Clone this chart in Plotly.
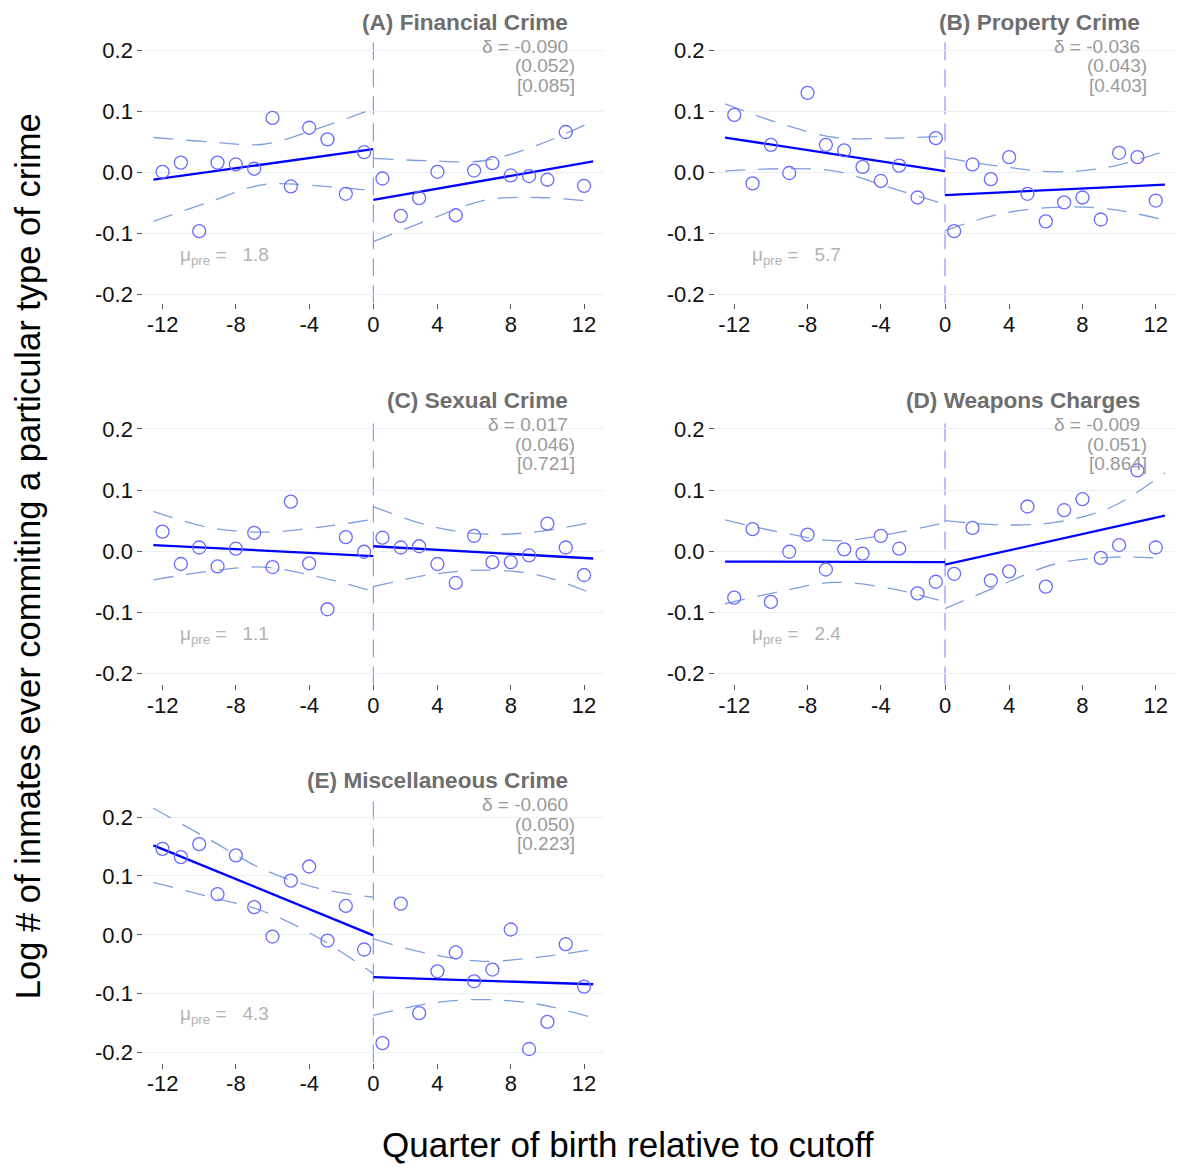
import plotly.graph_objects as go

# ---------------------------------------------------------------
# Regression-discontinuity plots: log # of inmates by quarter of
# birth relative to the school-entry cutoff, five crime types.
# ---------------------------------------------------------------

W, H = 1179, 1168

# quarters of birth on each side of the cutoff
quarters_pre = list(range(-12, 0))
quarters_post = list(range(1, 13))
tick_quarters = [-12, -8, -4, 0, 4, 8, 12]

# fitted lines run across each side of the cutoff (axis units)
fit_x_pre = [-12, 0]
fit_x_post = [0, 12]
# positions where the confidence bands were read
ci_x_pre = [-12, -9, -6, -3, 0]
ci_x_post = [0, 3, 6, 9, 12]

panel_titles = ["(A) Financial Crime", "(B) Property Crime", "(C) Sexual Crime",
                "(D) Weapons Charges", "(E) Miscellaneous Crime"]
delta_est = ["-0.090", "-0.036", "0.017", "-0.009", "-0.060"]
delta_se = ["0.052", "0.043", "0.046", "0.051", "0.050"]
delta_p = ["0.085", "0.403", "0.721", "0.864", "0.223"]
mu_pre = ["1.8", "5.7", "1.1", "2.4", "4.3"]

# binned means, pre-cutoff and post-cutoff
fin_pre = [0.001, 0.016, -0.096, 0.016, 0.013, 0.006, 0.089, -0.023, 0.073, 0.054, -0.035, 0.033]
fin_post = [-0.010, -0.071, -0.042, 0.001, -0.070, 0.003, 0.015, -0.005, -0.006, -0.012, 0.066, -0.022]
prop_pre = [0.094, -0.018, 0.045, -0.001, 0.130, 0.045, 0.036, 0.009, -0.014, 0.011, -0.041, 0.056]
prop_post = [-0.096, 0.013, -0.011, 0.025, -0.035, -0.080, -0.049, -0.041, -0.077, 0.032, 0.025, -0.046]
sex_pre = [0.032, -0.021, 0.006, -0.025, 0.004, 0.030, -0.026, 0.081, -0.020, -0.095, 0.023, -0.001]
sex_post = [0.022, 0.006, 0.008, -0.021, -0.052, 0.025, -0.018, -0.018, -0.007, 0.045, 0.006, -0.039]
weap_pre = [-0.076, 0.036, -0.083, -0.001, 0.027, -0.030, 0.003, -0.004, 0.025, 0.004, -0.069, -0.050]
weap_post = [-0.037, 0.038, -0.048, -0.033, 0.073, -0.058, 0.067, 0.085, -0.011, 0.010, 0.132, 0.006]
misc_pre = [0.146, 0.132, 0.154, 0.069, 0.135, 0.047, -0.003, 0.092, 0.116, -0.010, 0.049, -0.025]
misc_post = [-0.184, 0.053, -0.133, -0.062, -0.030, -0.079, -0.059, 0.009, -0.194, -0.148, -0.016, -0.088]

# fitted values at the ends of each side
fin_fit_pre, fin_fit_post = [-0.012, 0.038], [-0.045, 0.018]
prop_fit_pre, prop_fit_post = [0.057, 0.002], [-0.037, -0.020]
sex_fit_pre, sex_fit_post = [0.010, -0.008], [0.008, -0.012]
weap_fit_pre, weap_fit_post = [-0.017, -0.018], [-0.022, 0.058]
misc_fit_pre, misc_fit_post = [0.152, -0.001], [-0.072, -0.084]

# 95% confidence bands (upper / lower) at ci_x_pre and ci_x_post
fin_hi_pre, fin_lo_pre = [0.057, 0.050, 0.046, 0.072, 0.104], [-0.080, -0.049, -0.020, -0.022, -0.030]
fin_hi_post, fin_lo_post = [0.023, 0.019, 0.019, 0.045, 0.084], [-0.113, -0.078, -0.046, -0.041, -0.048]
prop_hi_pre, prop_lo_pre = [0.112, 0.080, 0.057, 0.056, 0.059], [0.002, 0.006, 0.002, -0.025, -0.052]
prop_hi_post, prop_lo_post = [0.024, 0.010, 0.001, 0.009, 0.035], [-0.095, -0.068, -0.057, -0.060, -0.078]
sex_hi_pre, sex_lo_pre = [0.065, 0.039, 0.031, 0.039, 0.052], [-0.047, -0.033, -0.026, -0.042, -0.066]
sex_hi_post, sex_lo_post = [0.073, 0.042, 0.028, 0.032, 0.048], [-0.058, -0.039, -0.031, -0.039, -0.070]
weap_hi_pre, weap_lo_pre = [0.051, 0.031, 0.017, 0.028, 0.047], [-0.086, -0.066, -0.051, -0.061, -0.083]
weap_hi_post, weap_lo_post = [0.050, 0.043, 0.047, 0.071, 0.128], [-0.094, -0.056, -0.021, -0.010, -0.012]
misc_hi_pre, misc_lo_pre = [0.215, 0.163, 0.111, 0.079, 0.064], [0.089, 0.065, 0.040, -0.005, -0.066]
misc_hi_post, misc_lo_post = [-0.007, -0.032, -0.045, -0.038, -0.025], [-0.137, -0.117, -0.110, -0.118, -0.141]

panels = [
    (fin_pre, fin_post, fin_fit_pre, fin_fit_post, fin_hi_pre, fin_lo_pre, fin_hi_post, fin_lo_post),
    (prop_pre, prop_post, prop_fit_pre, prop_fit_post, prop_hi_pre, prop_lo_pre, prop_hi_post, prop_lo_post),
    (sex_pre, sex_post, sex_fit_pre, sex_fit_post, sex_hi_pre, sex_lo_pre, sex_hi_post, sex_lo_post),
    (weap_pre, weap_post, weap_fit_pre, weap_fit_post, weap_hi_pre, weap_lo_pre, weap_hi_post, weap_lo_post),
    (misc_pre, misc_post, misc_fit_pre, misc_fit_post, misc_hi_pre, misc_lo_pre, misc_hi_post, misc_lo_post),
]


def axis_pos(q):
    """Centre of a quarter's bin on the axis; the cutoff sits at 0."""
    if q < 0:
        return q + 0.5
    if q > 0:
        return q - 0.5
    return 0


# panel geometry in pixels: (left, right, top, bottom) and y range
col_px = [(143.3, 603.3), (715.0, 1175.0)]
row_px = [(37.8, 302.9), (418.0, 686.0), (800.0, 1066.0)]
row_yrange = [[-0.214, 0.217], [-0.218, 0.218], [-0.217, 0.2326]]
x_range = [-12.55, 12.55]

FONT = "Liberation Sans, Arial, Helvetica, sans-serif"
POINT_COLOR = "#6b6bff"
FIT_COLOR = "#0000ff"
CI_COLOR = "#7f9fdf"
CUT_COLOR = "#7b7bff"
GRID_COLOR = "#eaf0f2"

fig = go.Figure()
layout_axes = {}
annotations = []
shapes = []

for i, data in enumerate(panels):
    pre, post, fpre, fpost, hpre, lpre, hpost, lpost = data
    row, col = divmod(i, 2)
    x0, x1 = col_px[col]
    top, bot = row_px[row]
    n = i + 1
    xa = "x" if n == 1 else f"x{n}"
    ya = "y" if n == 1 else f"y{n}"
    xkey = "xaxis" if n == 1 else f"xaxis{n}"
    ykey = "yaxis" if n == 1 else f"yaxis{n}"

    layout_axes[xkey] = dict(
        domain=[x0 / W, x1 / W], range=x_range, anchor=ya,
        tickmode="array",
        tickvals=[axis_pos(q) for q in tick_quarters],
        ticktext=[str(q) for q in tick_quarters],
        ticks="outside", ticklen=5, tickwidth=1, tickcolor="#555555",
        ticklabelstandoff=-4,
        showgrid=False, zeroline=False, showline=False,
        tickfont=dict(family=FONT, size=22, color="#111111"),
    )
    layout_axes[ykey] = dict(
        domain=[1 - bot / H, 1 - top / H], range=row_yrange[row], anchor=xa,
        tickmode="array", tickvals=[-0.2, -0.1, 0.0, 0.1, 0.2],
        ticktext=["-0.2", "-0.1", "0.0", "0.1", "0.2"],
        ticks="outside", ticklen=5, tickwidth=1, tickcolor="#555555",
        showgrid=True, gridcolor=GRID_COLOR, gridwidth=1,
        zeroline=False, showline=False,
        tickfont=dict(family=FONT, size=22, color="#111111"),
    )

    # confidence bands
    for xs, ys in ((ci_x_pre, hpre), (ci_x_pre, lpre), (ci_x_post, hpost), (ci_x_post, lpost)):
        fig.add_trace(go.Scatter(
            x=xs, y=ys, mode="lines", xaxis=xa, yaxis=ya, showlegend=False,
            line=dict(color=CI_COLOR, width=1.3, dash="20px,13px", shape="spline", smoothing=1.0),
            hoverinfo="skip"))

    # fitted lines
    for xs, ys in ((fit_x_pre, fpre), (fit_x_post, fpost)):
        fig.add_trace(go.Scatter(
            x=xs, y=ys, mode="lines", xaxis=xa, yaxis=ya, showlegend=False,
            line=dict(color=FIT_COLOR, width=2.3)))

    # binned means
    fig.add_trace(go.Scatter(
        x=[axis_pos(q) for q in quarters_pre + quarters_post], y=pre + post,
        mode="markers", xaxis=xa, yaxis=ya, showlegend=False,
        marker=dict(symbol="circle-open", size=13, color=POINT_COLOR, line=dict(width=1.3, color=POINT_COLOR))))

    # cutoff line
    shapes.append(dict(
        type="line", xref=xa, yref=f"{ya} domain", x0=0, x1=0, y0=0, y1=1,
        line=dict(color=CUT_COLOR, width=1, dash="18px,9px"), layer="below"))

    # panel title and estimate block
    right = x1 - 36
    annotations.append(dict(
        text=f"<b>{panel_titles[i]}</b>", xref="paper", yref="paper",
        x=(right + 3) / W, y=1 - (top - 17.5) / H, xanchor="right", yanchor="middle",
        showarrow=False, font=dict(family=FONT, size=22.6, color="#6e6e6e")))
    for line, dy, dx in ((f"\u03b4 = {delta_est[i]}", 7.0, 2.5),
                         (f"({delta_se[i]})", 26.5, 10.0),
                         (f"[{delta_p[i]}]", 46.0, 10.0)):
        annotations.append(dict(
            text=line, xref="paper", yref="paper",
            x=(right + dx) / W, y=1 - (top + dy) / H, xanchor="right", yanchor="middle",
            showarrow=False, font=dict(family=FONT, size=19, color="#9a9a9a")))
    annotations.append(dict(
        text=f"\u03bc<sub>pre</sub> =\u00a0\u00a0\u00a0{mu_pre[i]}", xref="paper", yref="paper",
        x=(x0 + 35) / W, y=1 - (top + 218) / H, xanchor="left", yanchor="middle",
        showarrow=False, font=dict(family=FONT, size=19, color="#b3b3b3")))

# shared axis titles
annotations.append(dict(
    text="Quarter of birth relative to cutoff", xref="paper", yref="paper",
    x=628 / W, y=1 - 1148 / H, xanchor="center", yanchor="middle", showarrow=False,
    font=dict(family=FONT, size=35, color="#000000")))
annotations.append(dict(
    text="Log # of inmates ever commiting a particular type of crime", xref="paper", yref="paper",
    x=28 / W, y=1 - 557 / H, xanchor="center", yanchor="middle", showarrow=False, textangle=-90,
    font=dict(family=FONT, size=34.5, color="#000000")))

fig.update_layout(
    width=W, height=H, margin=dict(l=0, r=0, t=0, b=0),
    paper_bgcolor="white", plot_bgcolor="white",
    annotations=annotations, shapes=shapes, **layout_axes)

fig.write_html("out.html")
